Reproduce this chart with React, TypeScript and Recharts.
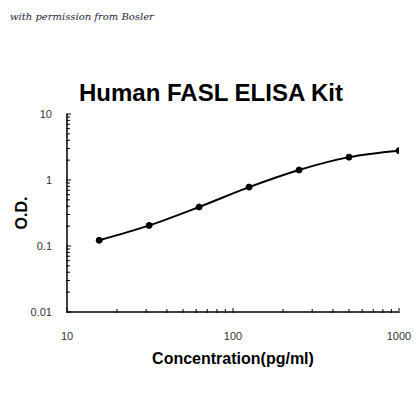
import { Line, LineChart, XAxis, YAxis } from "recharts";

// standard curve points (pg/ml vs O.D.)
const concentrations = [15.625, 31.25, 62.5, 125, 250, 500, 1000];
const odValues = [0.122, 0.205, 0.39, 0.78, 1.42, 2.22, 2.78];

const xMajorTicks = [10, 100, 1000];
const xTicks = [
  10, 20, 30, 40, 50, 60, 70, 80, 90,
  100, 200, 300, 400, 500, 600, 700, 800, 900, 1000
];
const yMajorTicks = [0.01, 0.1, 1, 10];
const yTicks = [
  0.01, 0.02, 0.03, 0.04, 0.05, 0.06, 0.07, 0.08, 0.09,
  0.1, 0.2, 0.3, 0.4, 0.5, 0.6, 0.7, 0.8, 0.9,
  1, 2, 3, 4, 5, 6, 7, 8, 9, 10
];

const data = concentrations.map((c, i) => ({ conc: c, od: odValues[i] }));

const FONT = "'Liberation Sans', Arial, sans-serif";
// small offset between the tick anchor recharts gives and the axis line
const GAP = 1;

function YTick(props: any) {
  const { x, y, payload } = props;
  const ax = x + GAP;
  const major = yMajorTicks.includes(payload.value);
  return (
    <g>
      <line x1={ax} x2={ax + (major ? 5 : 4)} y1={y} y2={y} stroke="#000" strokeWidth={1} />
      {major && (
        <text x={ax - 14} y={y} dy={4} textAnchor="end" fontSize={11} fill="#333" fontFamily={FONT}>
          {payload.value}
        </text>
      )}
    </g>
  );
}

function XTick(props: any) {
  const { x, y, payload } = props;
  const ay = y - GAP;
  const major = xMajorTicks.includes(payload.value);
  return (
    <g>
      <line x1={x} x2={x} y1={ay} y2={ay - (major ? 5 : 4)} stroke="#000" strokeWidth={1} />
      {major && (
        <text x={x} y={ay + 27} textAnchor="middle" fontSize={11} fill="#333" fontFamily={FONT}>
          {payload.value}
        </text>
      )}
    </g>
  );
}

export default function App() {
  return (
    <div style={{ position: "absolute", left: 0, top: 0, width: 420, height: 420, background: "#fff" }}>
      <div
        style={{
          position: "absolute",
          left: 10,
          top: 11,
          fontFamily: "'DejaVu Serif', serif",
          fontStyle: "italic",
          fontSize: 10,
          color: "#1c1c3a"
        }}
      >
        with permission from Bosler
      </div>
      <div
        style={{
          position: "absolute",
          left: 0,
          width: 422,
          top: 79,
          textAlign: "center",
          fontFamily: FONT,
          fontWeight: "bold",
          fontSize: 24,
          color: "#000"
        }}
      >
        Human FASL ELISA Kit
      </div>
      <LineChart
        width={420}
        height={420}
        data={data}
        margin={{ top: 114, right: 21, bottom: 68, left: 27 }}
      >
        <XAxis
          dataKey="conc"
          type="number"
          scale="log"
          domain={[10, 1000]}
          ticks={xTicks}
          interval={0}
          allowDataOverflow
          height={40}
          tickSize={1}
          tickMargin={1}
          tickLine={false}
          axisLine={{ stroke: "#000", strokeWidth: 1.5 }}
          tick={<XTick />}
          label={{
            value: "Concentration(pg/ml)",
            position: "insideBottom",
            offset: -12,
            style: { fontFamily: FONT, fontWeight: "bold", fontSize: 16, fill: "#000" }
          }}
        />
        <YAxis
          dataKey="od"
          type="number"
          scale="log"
          domain={[0.01, 10]}
          ticks={yTicks}
          interval={0}
          allowDataOverflow
          width={40}
          tickSize={1}
          tickMargin={1}
          tickLine={false}
          axisLine={{ stroke: "#000", strokeWidth: 1.5 }}
          tick={<YTick />}
          label={{
            value: "O.D.",
            angle: -90,
            position: "insideLeft",
            offset: -6,
            style: { fontFamily: FONT, fontWeight: "bold", fontSize: 16, fill: "#000", textAnchor: "middle" }
          }}
        />
        <Line
          type="monotone"
          dataKey="od"
          stroke="#000"
          strokeWidth={2}
          dot={{ r: 3, fill: "#000", stroke: "#000", strokeWidth: 1 }}
          isAnimationActive={false}
        />
      </LineChart>
    </div>
  );
}
